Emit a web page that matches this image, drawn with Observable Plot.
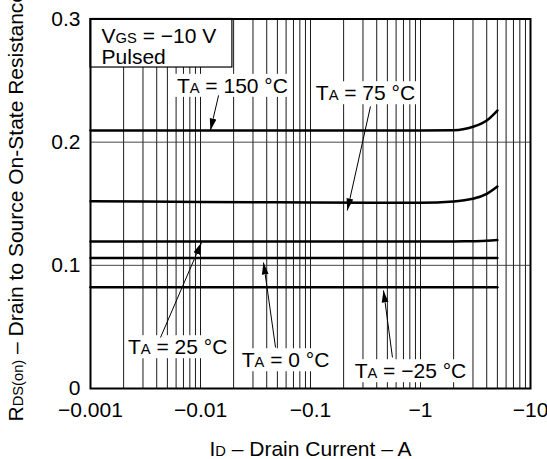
<!DOCTYPE html>
<html><head><meta charset="utf-8">
<script src="https://cdn.jsdelivr.net/npm/d3@7"></script>
<script src="https://cdn.jsdelivr.net/npm/@observablehq/plot@0.6"></script>
<style>
body{margin:0;background:#fff;}
svg{display:block;}
</style></head><body><div id="chart"></div>
<script>
// Drain current (A) sample points
const currents = [-0.001, -0.01, -0.1, -1, -2, -2.5, -3, -4, -5];
// RDS(on) (ohm) per ambient temperature
const rds150 = [0.2095, 0.2095, 0.2095, 0.2095, 0.2097, 0.2107, 0.2125, 0.2176, 0.2257];
const rds75  = [0.152, 0.1515, 0.151, 0.1508, 0.1518, 0.1528, 0.154, 0.158, 0.164];
const rds25  = [0.1193, 0.1193, 0.1193, 0.1193, 0.1194, 0.1195, 0.1196, 0.1199, 0.1205];
const rds0   = [0.106, 0.106, 0.106, 0.106, 0.106, 0.106, 0.106, 0.106, 0.106];
const rdsM25 = [0.0822, 0.0822, 0.0822, 0.0822, 0.0822, 0.0822, 0.0822, 0.0822, 0.0822];
const temps = ["150", "75", "25", "0", "-25"];
const seriesValues = [rds150, rds75, rds25, rds0, rdsM25];

const xTicks = [-0.001, -0.01, -0.1, -1, -10];
const yTicks = [0, 0.1, 0.2, 0.3];
const yGrid = [0.1, 0.2];

// temperature annotations (label centre and arrow base -> tip, in data units)
const labelText = ["T{A} = 150 °C", "T{A} = 75 °C", "T{A} = 25 °C", "T{A} = 0 °C", "T{A} = −25 °C"];
const labelX = [-0.0195, -0.316, -0.0062, -0.0593, -0.81];
const labelY = [0.2455, 0.2395, 0.0333, 0.0227, 0.0138];
const arrowX1 = [-0.0146, -0.351, -0.00433, -0.0481, -0.556];
const arrowY1 = [0.238, 0.229, 0.0414, 0.0333, 0.0252];
const arrowX2 = [-0.0123, -0.216, -0.0102, -0.0374, -0.461];
const arrowY2 = [0.2095, 0.1445, 0.1185, 0.1023, 0.0796];

// conditions box
const condText = "V{GS} = −10 V\nPulsed";
const condBox = {x1: -0.001, x2: -0.0195, y1: 0.2606, y2: 0.3};
const condTextPos = {x: -0.00126, y: 0.2925};

const rows = [];
temps.forEach((t, s) => currents.forEach((c, i) => rows.push({T: t, I: c, R: seriesValues[s][i]})));

const xGrid = [];
for (let e = -3; e <= 0; e++) for (let k = 1; k <= 9; k++) xGrid.push(-k * Math.pow(10, e));
xGrid.push(-10);

const idx = d3.range(labelText.length);

function filledArrow(color, context) {
  const ns = "http://www.w3.org/2000/svg";
  const m = context.document.createElementNS(ns, "marker");
  m.setAttribute("viewBox", "-12 -4 12 8");
  m.setAttribute("markerWidth", 12);
  m.setAttribute("markerHeight", 8);
  m.setAttribute("markerUnits", "userSpaceOnUse");
  m.setAttribute("refX", 0);
  m.setAttribute("refY", 0);
  m.setAttribute("orient", "auto");
  const p = context.document.createElementNS(ns, "path");
  p.setAttribute("d", "M-12,-3.4L0,0L-12,3.4Z");
  p.setAttribute("fill", color);
  p.setAttribute("stroke", "none");
  m.appendChild(p);
  return m;
}

const chart = Plot.plot({
  width: 547,
  height: 459,
  marginLeft: 90,
  marginRight: 17,
  marginTop: 18.5,
  marginBottom: 71,
  style: {fontFamily: "'Liberation Sans', Arial, Helvetica, sans-serif", fontSize: "21px", color: "#000", background: "#fff"},
  x: {type: "log", domain: [-0.001, -10], ticks: xTicks, tickFormat: d => "−" + Math.abs(d), tickSize: 0, tickPadding: 14, label: null},
  y: {domain: [0, 0.3], ticks: yTicks, tickFormat: d => d === 0 ? "0" : d.toFixed(1), tickSize: 0, tickPadding: 10, label: null},
  marks: [
    Plot.ruleX(xGrid, {stroke: "#000", strokeWidth: 0.9}),
    Plot.ruleY(yGrid, {stroke: "#333", strokeWidth: 0.9}),
    Plot.line(rows, {x: "I", y: "R", z: "T", stroke: "#000", strokeWidth: 2.5, curve: "monotone-x"}),
    Plot.rect([condBox], {x1: "x1", x2: "x2", y1: "y1", y2: "y2", fill: "#fff", stroke: "#000", strokeWidth: 1.2}),
    Plot.text([condText], {x: condTextPos.x, y: condTextPos.y, text: d => d, textAnchor: "start", lineAnchor: "top", lineHeight: 1.0}),
    Plot.text(idx, {x: i => labelX[i], y: i => labelY[i], text: i => labelText[i], textAnchor: "middle", lineAnchor: "middle"}),
    Plot.link(idx, {x1: i => arrowX1[i], y1: i => arrowY1[i], x2: i => arrowX2[i], y2: i => arrowY2[i], stroke: "#000", strokeWidth: 1, markerEnd: filledArrow}),
    Plot.text(["I{D} – Drain Current – A"], {frameAnchor: "bottom", lineAnchor: "bottom", dy: 67}),
    Plot.text(["R{DS(on)} – Drain to Source On-State Resistance – Ω"], {frameAnchor: "bottom-left", rotate: -90, textAnchor: "start", lineAnchor: "middle", dx: -74, dy: 33}),
    Plot.frame({stroke: "#000", strokeWidth: 2})
  ]
});

document.getElementById("chart").append(chart);

// subscripts: "{..}" -> smaller tspan on baseline
const ns = "http://www.w3.org/2000/svg";
chart.querySelectorAll("text, tspan").forEach(el => {
  if (el.children.length) return;
  const s = el.textContent;
  if (!s.includes("{")) return;
  el.textContent = "";
  s.split(/(\{[^}]*\})/).forEach(part => {
    if (!part) return;
    if (part.startsWith("{")) {
      const t = document.createElementNS(ns, "tspan");
      t.setAttribute("font-size", "0.7em");
      t.textContent = part.slice(1, -1);
      el.appendChild(t);
    } else {
      el.appendChild(document.createTextNode(part));
    }
  });
});

// white boxes behind temperature labels
chart.querySelectorAll("text").forEach(el => {
  if (!el.textContent.startsWith("TA =")) return;
  const b = el.getBBox();
  const r = document.createElementNS(ns, "rect");
  r.setAttribute("x", b.x - 3);
  r.setAttribute("y", b.y);
  r.setAttribute("width", b.width + 6);
  r.setAttribute("height", b.height);
  r.setAttribute("fill", "#fff");
  const tr = el.getAttribute("transform");
  if (tr) r.setAttribute("transform", tr);
  el.parentNode.insertBefore(r, el);
});
</script>
</body></html>
